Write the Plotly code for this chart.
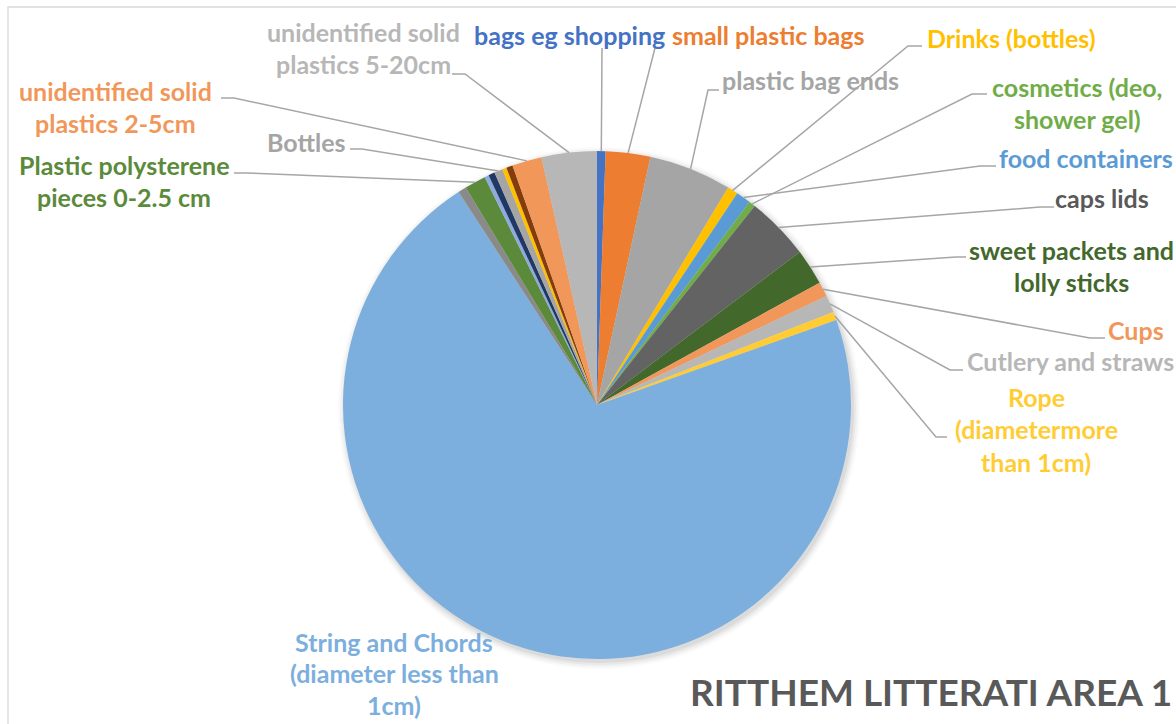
import math
import plotly.graph_objects as go

# Litter counts per category, clockwise from 12 o'clock
categories = [
    "bags eg shopping", "small plastic bags", "plastic bag ends", "Drinks (bottles)",
    "food containers", "cosmetics (deo, shower gel)", "caps lids",
    "sweet packets and lolly sticks", "Cups", "Cutlery and straws",
    "Rope (diametermore than 1cm)", "String and Chords (diameter less than 1cm)",
    "foam fragments", "Plastic polysterene pieces 0-2.5 cm", "crisp packets",
    "strapping bands", "Bottles", "lighters", "tape",
    "unidentified solid plastics 2-5cm", "unidentified solid plastics 5-20cm",
]
counts = [4, 21, 39, 5, 7, 3, 30, 17, 7, 8, 4, 528, 4, 10, 2, 3, 4, 2, 3, 14, 26]
colors = [
    "#4472C4", "#ED7D31", "#A5A5A5", "#FFC000", "#5B9BD5", "#70AD47", "#636363",
    "#43682B", "#F1975A", "#B7B7B7", "#FFCD33", "#7CAFDD", "#8A8A8A", "#5A8A3A",
    "#8FAADC", "#203864", "#A5A5A5", "#FFC000", "#843C0C", "#F1975A", "#B7B7B7",
]
title_text = "RITTHEM LITTERATI AREA 1"

W, H = 1176, 724
CX, CY, R = 597, 405, 254  # pie centre and radius in pixels


def px(x, y):
    return x / W, 1 - y / H


# label lines, text colour, centre x, first line centre y, line gap, leader path
labels = {
    0: (["bags eg shopping"], "#4472C4", 569, 35, 32.3, [(602, 48)]),
    1: (["small plastic bags"], "#ED7D31", 768, 35, 32.3, [(655, 48)]),
    2: (["plastic bag ends"], "#A5A5A5", 810, 80, 32.3, [(719, 90), (708, 90)]),
    3: (["Drinks (bottles)"], "#FFC000", 1011, 38, 32.3, [(922, 46), (908, 46)]),
    5: (["cosmetics (deo,", "shower gel)"], "#70AD47", 1077, 87, 32.3, [(987, 94), (972, 94)]),
    4: (["food containers"], "#5B9BD5", 1086, 158, 32.3, [(996, 166), (980, 166)]),
    6: (["caps lids"], "#595959", 1102, 198, 32.3, [(1054, 207), (1040, 207)]),
    7: (["sweet packets and", "lolly sticks"], "#43682B", 1071, 250, 32.3, [(966, 257), (956, 257)]),
    8: (["Cups"], "#F1975A", 1136, 330, 32.3, [(1105, 338), (1090, 338)]),
    9: (["Cutlery and straws"], "#B7B7B7", 1070, 361, 32.3, [(963, 370), (950, 370)]),
    10: (["Rope", "(diametermore", "than 1cm)"], "#FFCD33", 1036, 397, 32.3, [(947, 437), (936, 437)]),
    11: (["String and Chords", "(diameter less than", "1cm)"], "#7CAFDD", 394, 642, 31.3, []),
    19: (["unidentified solid", "plastics 2-5cm"], "#F1975A", 115, 91, 32.3, [(221, 98), (234, 98)]),
    20: (["unidentified solid", "plastics 5-20cm"], "#B7B7B7", 363, 32, 32.3, [(452, 74), (465, 74)]),
    16: (["Bottles"], "#A5A5A5", 306, 142, 32.3, [(350, 149), (362, 149)]),
    13: (["Plastic polysterene", "pieces 0-2.5 cm"], "#5A8A3A", 124, 165, 32.3, [(234, 173), (247, 173)]),
}
FONT = "Lato, 'Open Sans', sans-serif"

fig = go.Figure()

dom_x = [(CX - R) / W, (CX + R) / W]
dom_y = [1 - (CY + R) / H, 1 - (CY - R) / H]

fig.add_trace(go.Pie(
    labels=categories, values=counts, sort=False, direction="clockwise",
    rotation=0, marker=dict(colors=colors, line=dict(width=0)),
    textinfo="none", hoverinfo="skip", showlegend=False,
    domain=dict(x=dom_x, y=dom_y),
))

shapes = []
# soft drop shadow behind the pie
for i, a in enumerate([0.05, 0.04, 0.03, 0.02]):
    rr = R + 1 + 2 * i
    x0, y1 = px(CX + 2 - rr, CY + 3 - rr)
    x1, y0 = px(CX + 2 + rr, CY + 3 + rr)
    shapes.append(dict(type="circle", xref="paper", yref="paper", x0=x0, x1=x1,
                       y0=y0, y1=y1, fillcolor=f"rgba(0,0,0,{a})",
                       line=dict(width=0), layer="below"))

# chart area border
bx0, by1 = px(8, 7)
shapes.append(dict(type="rect", xref="paper", yref="paper", x0=bx0, y0=-0.05,
                   x1=1.05, y1=by1, line=dict(color="#D9D9D9", width=1.3),
                   fillcolor="rgba(0,0,0,0)", layer="below"))

total = sum(counts)
cum = 0.0
mids = []
for v in counts:
    mids.append((cum + v / 2) / total * 2 * math.pi)
    cum += v

annotations = []
for idx, (lines, col, tx, ty, gap, path) in labels.items():
    for k, line in enumerate(lines):
        ax, ay = px(tx, ty + k * gap)
        annotations.append(dict(
            x=ax, y=ay, xref="paper", yref="paper", text=f"<b>{line}</b>",
            showarrow=False, xanchor="center", yanchor="middle",
            font=dict(family=FONT, size=25, color=col),
        ))
    if path:
        ang = mids[idx]
        ex = CX + R * math.sin(ang)
        ey = CY - R * math.cos(ang)
        pts = path + [(ex, ey)]
        d = "M " + " L ".join(f"{px(x, y)[0]:.5f},{px(x, y)[1]:.5f}" for x, y in pts)
        shapes.append(dict(type="path", xref="paper", yref="paper", path=d,
                           line=dict(color="#A6A6A6", width=1.5), layer="above"))

tx, ty = px(931, 691)
annotations.append(dict(
    x=tx, y=ty, xref="paper", yref="paper", text=f"<b>{title_text}</b>",
    showarrow=False, xanchor="center", yanchor="middle",
    font=dict(family=FONT, size=37, color="#595959"),
))

fig.update_layout(
    width=W, height=H, margin=dict(l=0, r=0, t=0, b=0),
    paper_bgcolor="white", plot_bgcolor="white",
    shapes=shapes, annotations=annotations,
)

fig.write_html("out.html")
